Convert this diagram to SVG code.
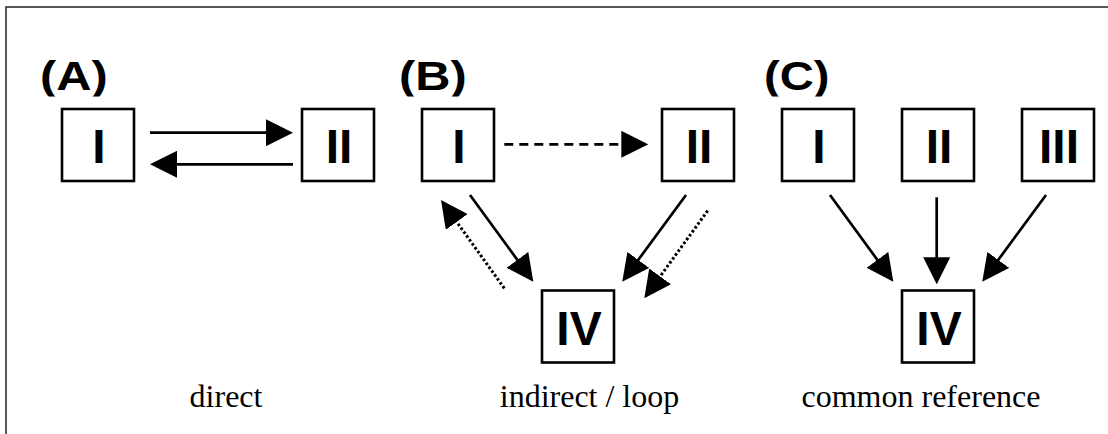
<svg xmlns="http://www.w3.org/2000/svg" width="1108" height="434" viewBox="0 0 1108 434">
<style>
.box{fill:#fff;stroke:#000;stroke-width:2.6}
.num{font-family:"Liberation Sans",Arial,sans-serif;font-weight:bold;font-size:48px;text-anchor:middle;fill:#000}
.lbl{font-family:"Liberation Sans",Arial,sans-serif;font-weight:bold;font-size:40px;fill:#000}
.cap{font-family:"Liberation Serif","Times New Roman",serif;font-size:32px;text-anchor:middle;fill:#000}
.ln{stroke:#000;stroke-width:2.7;fill:none;marker-end:url(#ah)}
.dash{stroke-dasharray:9 6}
.dot{stroke-width:3;stroke-dasharray:2.6 2.2}
</style>
<defs>
<marker id="ah" markerUnits="userSpaceOnUse" markerWidth="27" markerHeight="27" viewBox="0 0 27 27" refX="19" refY="13.5" orient="auto">
<path d="M0,0 L27,13.5 L0,27 z" fill="#000"/>
</marker>
<clipPath id="lc"><rect x="0" y="0" width="1108" height="96.5"/></clipPath>
</defs>
<rect width="1108" height="434" fill="#fff"/>
<rect x="6" y="7" width="1200" height="500" fill="none" stroke="#222" stroke-width="1.5"/>
<g id="labels" clip-path="url(#lc)">
<text class="lbl" transform="translate(40,90) scale(1.22,1)">(A)</text>
<text class="lbl" transform="translate(399,90) scale(1.22,1)">(B)</text>
<text class="lbl" transform="translate(764,90) scale(1.18,1)">(C)</text>
</g>
<g id="connectors">
<line class="ln" x1="150" y1="132.7" x2="285" y2="132.7"/>
<line class="ln" x1="293" y1="164.3" x2="158" y2="164.3"/>
<line class="ln dash" x1="504.3" y1="144.3" x2="640.3" y2="144.3"/>
<line class="ln" x1="470" y1="195" x2="528.6" y2="275.2"/>
<line class="ln dot" x1="504.3" y1="288.3" x2="445.7" y2="206.5"/>
<line class="ln" x1="686" y1="195" x2="627" y2="275.2"/>
<line class="ln dot" x1="707.7" y1="210.7" x2="649" y2="291.8"/>
<line class="ln" x1="830" y1="195" x2="888.6" y2="275.2"/>
<line class="ln" x1="936.7" y1="197.3" x2="936.7" y2="276.3"/>
<line class="ln" x1="1046" y1="195" x2="987" y2="275.2"/>
</g>
<g id="A-I"><rect class="box" x="62" y="109" width="72" height="72"/><text class="num" x="99" y="162.5">I</text></g>
<g id="A-II"><rect class="box" x="302" y="109" width="72" height="72"/><text class="num" x="339" y="162.5">II</text></g>
<g id="B-I"><rect class="box" x="422" y="109" width="72" height="72"/><text class="num" x="459" y="162.5">I</text></g>
<g id="B-II"><rect class="box" x="662" y="109" width="72" height="72"/><text class="num" x="699" y="162.5">II</text></g>
<g id="B-IV"><rect class="box" x="542" y="290.5" width="72" height="72"/><text class="num" x="579" y="344.5">IV</text></g>
<g id="C-I"><rect class="box" x="782" y="109" width="72" height="72"/><text class="num" x="819" y="162.5">I</text></g>
<g id="C-II"><rect class="box" x="902" y="109" width="72" height="72"/><text class="num" x="939" y="162.5">II</text></g>
<g id="C-III"><rect class="box" x="1022" y="109" width="72" height="72"/><text class="num" x="1059" y="162.5">III</text></g>
<g id="C-IV"><rect class="box" x="902" y="290.5" width="72" height="72"/><text class="num" x="939" y="344.5">IV</text></g>
<g id="captions">
<text class="cap" x="226" y="407">direct</text>
<text class="cap" x="589.5" y="407">indirect / loop</text>
<text class="cap" x="921" y="407">common reference</text>
</g>
</svg>
